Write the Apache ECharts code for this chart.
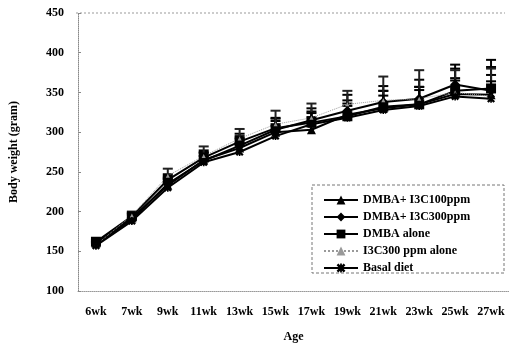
<!DOCTYPE html>
<html>
<head>
<meta charset="utf-8">
<script src="https://cdn.jsdelivr.net/npm/echarts@6/dist/echarts.min.js"></script>
<style>
  html, body { margin: 0; padding: 0; background: #fff; }
  #main { width: 509px; height: 348px; }
</style>
</head>
<body>
<div id="main"></div>
<script>
// 数据
var ages = ['6wk', '7wk', '9wk', '11wk', '13wk', '15wk', '17wk', '19wk', '21wk', '23wk', '25wk', '27wk'];
var yTicks = [100, 150, 200, 250, 300, 350, 400, 450];

var i3c100 = [160, 192, 233, 265, 280, 300, 303, 322, 330, 335, 348, 347];
var i3c300 = [159, 190, 235, 264, 283, 303, 315, 327, 338, 342, 360, 352];
var dmbaAlone = [162, 194, 240, 268, 288, 305, 312, 320, 332, 335, 352, 355];
var i3c300Alone = [158, 195, 245, 270, 292, 310, 318, 335, 340, 342, 350, 345];
var basal = [157, 188, 230, 262, 275, 295, 310, 318, 328, 333, 345, 342];

// 误差 (只画上半)
var err100 = [3, 5, 8, 10, 12, 14, 16, 18, 22, 22, 20, 25];
var err300 = [3, 5, 8, 10, 12, 15, 15, 20, 20, 24, 25, 30];
var errDmba = [3, 4, 7, 9, 10, 12, 14, 16, 20, 22, 28, 36];
var errAlone = [3, 5, 9, 12, 12, 17, 18, 17, 30, 36, 28, 35];
var errBasal = [3, 4, 7, 8, 11, 13, 14, 15, 18, 20, 20, 22];

var starPath = 'path://M0,4 L4,0 L10,6 L16,0 L20,4 L14,10 L20,16 L16,20 L10,14 L4,20 L0,16 L6,10 Z M8,0 L12,0 L12,20 L8,20 Z';

var myChart = echarts.init(document.getElementById('main'));

function errSeries(vals, errs, color) {
    var d = [];
    for (var i = 0; i < vals.length; i++) {
        d.push([i, vals[i], vals[i] + errs[i]]);
    }
    return {
        type: 'custom',
        data: d,
        z: 1,
        silent: true,
        renderItem: function (params, api) {
            var p1 = api.coord([api.value(0), api.value(1)]);
            var p2 = api.coord([api.value(0), api.value(2)]);
            var style = { stroke: color, lineWidth: 2 };
            return {
                type: 'group',
                children: [
                    { type: 'line', shape: { x1: p1[0], y1: p1[1], x2: p2[0], y2: p2[1] }, style: style },
                    { type: 'line', shape: { x1: p2[0] - 5, y1: p2[1], x2: p2[0] + 5, y2: p2[1] }, style: style }
                ]
            };
        }
    };
}

function lineSeries(name, vals, symbol, size, color, lineType, width) {
    return {
        name: name,
        type: 'line',
        data: vals,
        symbol: symbol,
        symbolSize: size,
        z: 3,
        lineStyle: { color: color, width: width, type: lineType },
        itemStyle: { color: color }
    };
}

var serifFont = '"Liberation Serif", "DejaVu Serif", serif';

option = {
    animation: false,
    grid: { left: 76, right: -2, top: 13, bottom: 55 },
    legend: {
        orient: 'vertical',
        left: 318,
        top: 189,
        itemWidth: 34,
        itemHeight: 11,
        itemGap: 5,
        textStyle: { fontFamily: serifFont, fontWeight: 'bold', fontSize: 12, color: '#000' },
        data: ['DMBA+ I3C100ppm', 'DMBA+ I3C300ppm', 'DMBA alone', 'I3C300 ppm alone', 'Basal diet']
    },
    graphic: [{
        type: 'rect',
        shape: { x: 312, y: 185, width: 192, height: 88 },
        style: { fill: 'none', stroke: '#777', lineWidth: 1, lineDash: [3, 2] },
        z: 10
    }, {
        type: 'line',
        shape: { x1: 76, y1: 13, x2: 505, y2: 13 },
        style: { stroke: '#999', lineWidth: 1, lineDash: [2, 2] }
    }],
    xAxis: {
        type: 'category',
        data: ages,
        name: 'Age',
        nameLocation: 'middle',
        nameGap: 40,
        nameTextStyle: { fontFamily: serifFont, fontWeight: 'bold', fontSize: 12, color: '#000' },
        axisLine: { lineStyle: { color: '#999', type: 'dotted' } },
        axisTick: { show: false },
        axisLabel: { fontFamily: serifFont, fontWeight: 'bold', fontSize: 12, color: '#000', margin: 15 }
    },
    yAxis: {
        type: 'value',
        min: 100,
        max: 450,
        interval: 50,
        name: 'Body weight (gram)',
        nameLocation: 'middle',
        nameGap: 58,
        nameTextStyle: { fontFamily: serifFont, fontWeight: 'bold', fontSize: 12, color: '#000' },
        axisLine: { show: true, lineStyle: { color: '#888', type: 'dotted' } },
        axisTick: { show: true, inside: true, length: 3, lineStyle: { color: '#888' } },
        splitLine: { show: false },
        axisLabel: {
            fontFamily: serifFont, fontWeight: 'bold', fontSize: 12, color: '#000', margin: 14,
            formatter: function (v) { return yTicks.indexOf(v) >= 0 ? v : ''; }
        }
    },
    series: [
        errSeries(i3c100, err100, '#000'),
        errSeries(i3c300, err300, '#000'),
        errSeries(dmbaAlone, errDmba, '#000'),
        errSeries(i3c300Alone, errAlone, '#222'),
        errSeries(basal, errBasal, '#000'),
        lineSeries('DMBA+ I3C100ppm', i3c100, 'triangle', 9, '#000', 'solid', 2),
        lineSeries('DMBA+ I3C300ppm', i3c300, 'diamond', 10, '#000', 'solid', 2),
        lineSeries('DMBA alone', dmbaAlone, 'rect', 10, '#000', 'solid', 2),
        lineSeries('I3C300 ppm alone', i3c300Alone, 'triangle', 4, '#999', 'dotted', 1),
        lineSeries('Basal diet', basal, starPath, 8, '#000', 'solid', 2)
    ]
};
myChart.setOption(option);
</script>
</body>
</html>
